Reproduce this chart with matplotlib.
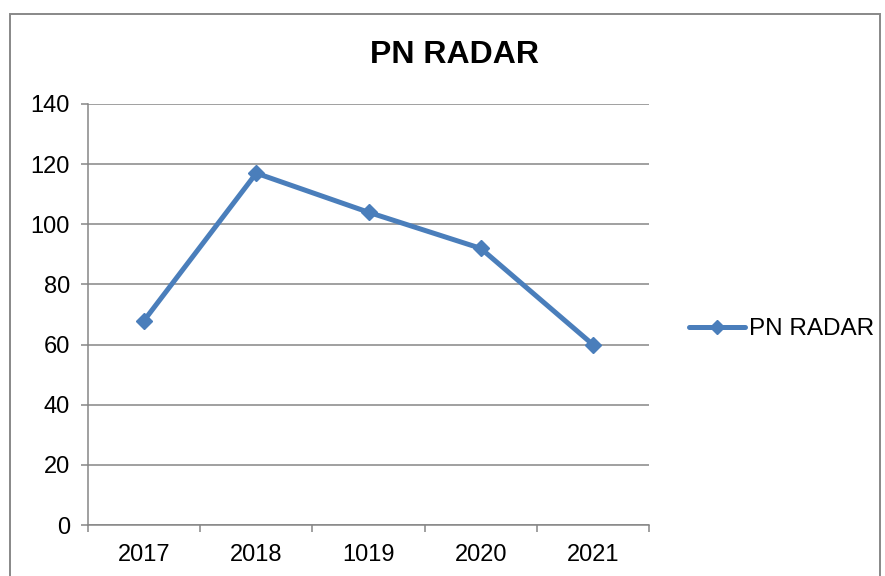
import matplotlib
matplotlib.use("Agg")
import matplotlib.pyplot as plt
from matplotlib.patches import Rectangle
from matplotlib.ticker import FixedLocator, NullFormatter

plt.rcParams['font.family'] = ['Liberation Sans', 'DejaVu Sans']

categories = ["2017", "2018", "1019", "2020", "2021"]
values = [68, 117, 104, 92, 60]
series_name = "PN RADAR"
title = "PN RADAR"
yticks = [0, 20, 40, 60, 80, 100, 120, 140]

W, H = 885, 576
fig = plt.figure(figsize=(W / 100, H / 100), dpi=100)
fig.patch.set_facecolor("white")

# outer chart border
fig.patches.append(Rectangle((10 / W, -0.05), 870 / W, 1.05 - 14 / H,
                             transform=fig.transFigure, fill=False,
                             edgecolor="#888888", linewidth=1.4, zorder=0))

left, right, top, bottom = 88, 649, 104, 525
ax = fig.add_axes([left / W, 1 - bottom / H, (right - left) / W, (bottom - top) / H])

gray = "#868686"
blue = "#4A7EBB"
x = list(range(len(categories)))
ax.plot(x, values, color=blue, linewidth=3.6, marker="D", markersize=8.5,
        label=series_name, zorder=3, solid_joinstyle="round", solid_capstyle="round")

ax.set_xlim(-0.5, len(categories) - 0.5)
ax.set_ylim(0, 140)
ax.set_yticks(yticks)
ax.set_yticklabels([str(v) for v in yticks])
ax.yaxis.grid(True, color=gray, linewidth=1.1)
ax.set_axisbelow(True)

ax.xaxis.set_major_locator(FixedLocator([i - 0.5 for i in range(len(categories) + 1)]))
ax.xaxis.set_major_formatter(NullFormatter())
ax.xaxis.set_minor_locator(FixedLocator(x))
ax.set_xticklabels(categories, minor=True)
ax.tick_params(axis="x", which="minor", length=0, pad=14, labelsize=17)
ax.tick_params(axis="x", which="major", length=5, width=1.1, color=gray, direction="out")
ax.tick_params(axis="y", length=5, width=1.1, color=gray, direction="out", pad=8, labelsize=17)

for s in ["top", "right"]:
    ax.spines[s].set_visible(False)
for s in ["left", "bottom"]:
    ax.spines[s].set_color(gray)
    ax.spines[s].set_linewidth(1.1)

fig.text(454 / W, 1 - 55 / H, title, ha="center", va="center",
         fontsize=23, fontweight="bold")

leg = fig.legend(loc="center left", bbox_to_anchor=(689 / W, 1 - 329 / H),
                 frameon=False, fontsize=17.5, handlelength=2.3,
                 handletextpad=0.15, borderpad=0, borderaxespad=0,
                 markerscale=0.8)

fig.savefig("out.png", dpi=100)
